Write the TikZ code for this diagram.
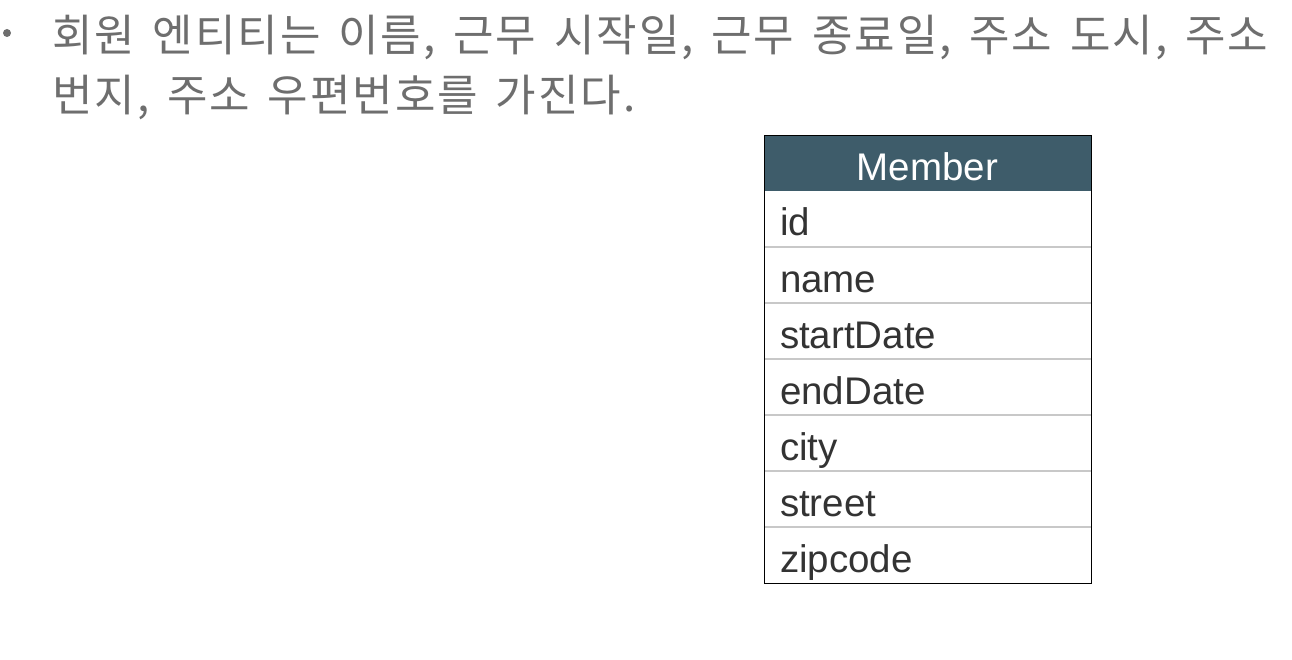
\documentclass[tikz,border=0pt]{standalone}
\usepackage{fontspec}
\setmainfont{Liberation Sans}
\newfontfamily\krfont[WordSpace=1.5,LetterSpace=4.5]{Noto Sans CJK KR}
\usetikzlibrary{positioning}
\definecolor{memHead}{HTML}{3E5C6A}
\definecolor{memLine}{HTML}{C8C8C8}
\definecolor{memText}{HTML}{333333}
\definecolor{noteGray}{HTML}{6E6E6E}
\tikzset{
  mem head/.style={fill=memHead, text=white, minimum width=327pt, minimum height=55pt, inner sep=0pt,
    outer sep=0pt, text height=34pt, text depth=0pt, font=\fontsize{38.5}{40}\selectfont},
  mem row/.style={minimum width=327pt, minimum height=56pt, inner xsep=16pt, inner ysep=0pt, outer sep=0pt,
    text width=295pt, align=left, text height=34pt, text depth=0pt, text=memText,
    font=\fontsize{38.5}{40}\selectfont},
  mem sep/.style={draw=memLine, line width=2.5pt},
  mem border/.style={draw=black, line width=1pt},
  note text/.style={anchor=base west, inner sep=0pt, text=noteGray, font=\krfont\fontsize{44}{50}\selectfont},
}
\begin{document}
\begin{tikzpicture}[x=1pt,y=1pt]
  \useasboundingbox (0,0) rectangle (1292,-660);
  % bullet text
  \fill[noteGray] (7,-33) circle (4);
  \node[note text] (line1) at (52,-52) {회원 엔티티는 이름, 근무 시작일, 근무 종료일, 주소 도시, 주소};
  \node[note text] (line2) at (52,-112) {번지, 주소 우편번호를 가진다.};
  % entity table
  \node[mem head, anchor=north west] (member) at (764,-136) {Member};
  \node[mem row, below=0pt of member] (r1) {id};
  \foreach \name [count=\i from 2, evaluate=\i as \j using int(\i-1)] in {name,startDate,endDate,city,street,zipcode}{
    \node[mem row, below=0pt of r\j] (r\i) {\name};
  }
  \foreach \i in {1,...,6}{\draw[mem sep] (r\i.south west) -- (r\i.south east);}
  \draw[mem border] (member.north west) rectangle (r7.south east);
\end{tikzpicture}
\end{document}
